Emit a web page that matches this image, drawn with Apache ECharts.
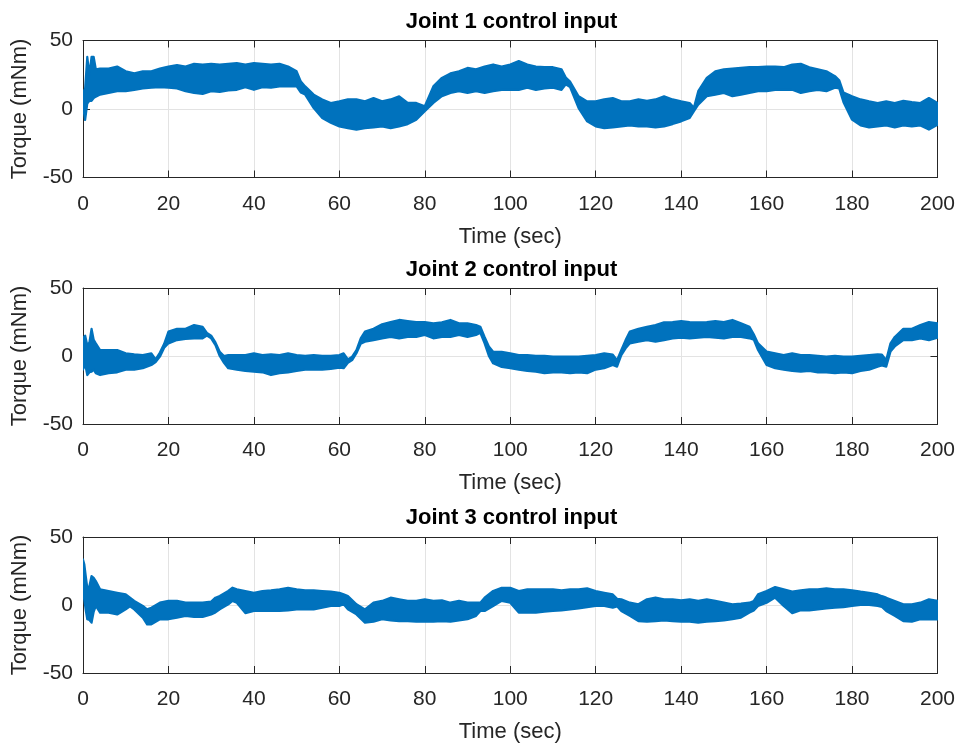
<!DOCTYPE html>
<html>
<head>
<meta charset="utf-8">
<script src="https://cdn.jsdelivr.net/npm/echarts@6/dist/echarts.min.js"></script>
<style>
  html, body { margin: 0; padding: 0; background: #ffffff; }
  #chart { width: 958px; height: 744px; }
</style>
</head>
<body>
<div id="chart"></div>
<script>
// Panel titles and axis text
const titles = ['Joint 1 control input', 'Joint 2 control input', 'Joint 3 control input'];
const xLabel = 'Time (sec)';
const yLabel = 'Torque (mNm)';
const xTicks = [0, 20, 40, 60, 80, 100, 120, 140, 160, 180, 200];
const yTicks = [-50, 0, 50];

// Joint 1: time (sec) with upper / lower envelope of the torque signal (mNm)
const time1 = [0,0.5,1,1.5,2,2.5,3,4,6,8,10,12,14,16,18,20,22,24,26,28,30,32,34,36,38,40,42,44,46,48,50,51,52,54,56,58,60,62,64,66,68,70,72,74,76,78,80,82,84,86,88,90,92,94,96,98,100,102,104,106,108,110,112,113,114,116,118,120,122,124,126,128,130,132,134,136,138,140,142,143,144,146,148,150,152,154,156,158,160,162,164,166,168,170,172,174,176,177,178,180,182,184,186,188,190,192,194,196,198,200];
const upper1 = [12,15,38,25,38,38,29,29.5,29.5,31,27.5,26,27.5,27.5,29.5,31,32,31,33,32.5,33,32.5,33,33.5,32.5,33.5,33,32.5,33,31,27.5,20,16.5,10.5,7,4.4,5.6,7,7,5.6,8,5.6,7,9.3,4.4,4.4,2,16.5,22.7,26,27.5,30,29,31,32.5,31,32.5,35,32.5,31,30.5,30.5,29,23,20,9.3,5.6,5.6,7,8,5.6,5.6,7,6,7,9.3,7,5.6,4.4,1,13,22.7,27.5,29,29.5,30,30.5,30.5,31,31,30.5,32.5,33,30.5,29,27.5,24,21,12,9.3,7,5.6,4.4,5.6,4.4,6,5,4.4,8,4.4];
const lower1 = [2,-8,4,6,6,8,9,10.5,11.7,13,13,14,15,15.5,16,15.5,15,13,11.7,11,13,12.5,13.5,14,16,14,16,15.5,16.5,16.5,16.5,12,10.5,0.7,-6.6,-10,-12.7,-14,-15,-14,-13.4,-12.7,-14,-12.7,-11,-7.8,-1.7,4.4,9.3,11.7,13,11.7,13,11.7,13,14,14,14,15.5,14,15,15.5,14,18,16,0.7,-9,-12.7,-14,-13.4,-12.7,-12,-12.7,-12.7,-13.4,-12.7,-11,-9,-6.6,-1.5,3.2,9.3,10.5,11.7,9.3,10.5,11.7,13,13,14,14,14,11.7,13,14,13,15.5,15,5,-7.8,-12,-13.4,-12.7,-12,-13.4,-12,-12.7,-12,-15,-11.5];

// Joint 2
const time2 = [0,0.5,1,1.5,2,2.5,3,4,6,8,10,12,14,16,17,18,19,20,22,24,26,28,29,30,31,32,33,34,36,38,40,42,44,46,48,50,52,54,56,58,60,61,62,63,64,65,66,68,70,72,74,76,78,80,82,84,86,88,90,92,93,94,95,96,98,100,102,104,106,108,110,112,114,116,118,120,122,124,125,126,127,128,130,132,134,136,138,140,142,144,146,148,150,152,154,156,157,158,160,162,164,166,168,170,172,174,176,178,180,182,184,186,187,188,189,190,192,194,196,198,200];
const upper2 = [13,15,8,10,20,12,9.3,4.4,4.4,4.4,2,1.2,0.7,2,-2.5,2.5,9,18,20,20,22.7,21.5,17,15,10,3.2,0,0.7,0.7,0.7,2,0.7,1.2,0.7,2,0.7,0.2,0.7,0.2,0.2,0.7,2,-2.5,-0.5,4.4,13,18,20,23.3,25,26.5,25.7,25,25,24,24.7,26.5,24,24,22.7,21.5,14,7,3.2,3,2,0.7,0.7,0.2,0.2,-0.5,-0.5,-0.5,-0.5,0.2,0.7,2,1,-3,4.4,11.7,18,20,21.5,22.7,24.7,25,25.7,25,24.7,25,25.7,25,26.5,24,21.5,16,9.3,3.2,2,0.7,2,0.7,0.7,0.2,-0.5,0.2,-0.5,-0.5,0.2,0.7,1.2,1,-3,9.3,14,20,20,22.7,25,24];
const lower2 = [-10,-6,-14,-12,-11.5,-10,-12.7,-14,-12.7,-12,-10,-10,-9,-6.6,-4.5,-0.5,6,9.3,11.7,12.5,13,13,15,13,8,0,-5,-9,-10,-11,-11.5,-12,-14,-12.7,-12,-11,-10,-10,-10,-9.5,-8.6,-9,-5,-3,2,9,10.5,11.7,13,14,13,14,14,15.5,13,14,14,15.5,14,15.5,17,9.3,0,-5.4,-8,-9,-10,-11,-11.5,-12.7,-12,-12,-12.7,-12,-12.7,-10,-9,-6.6,-7.8,0.7,5.6,9.3,10.5,11.7,10.5,11.7,13,13.5,13,13.5,14,13.5,13,14,14,13,12,4.4,-6.6,-9,-10,-11,-11.5,-11,-12,-12,-12.7,-12,-12.7,-11,-10,-7.8,-7,-7.8,3.2,7,11.7,11.7,13,11.7,13.5];

// Joint 3
const time3 = [0,0.3,0.7,1,1.5,2,2.5,3,4,6,8,10,11,12,14,15,16,18,20,22,24,26,28,30,31,32,34,35,36,38,40,42,44,46,48,50,52,54,56,58,60,61,62,64,66,68,70,72,74,76,78,80,82,84,86,88,90,92,93,94,96,98,100,102,104,106,108,110,112,114,116,118,120,122,124,125,126,128,130,132,134,136,138,140,142,144,146,148,150,152,154,156,157,158,160,162,164,166,168,170,172,174,176,178,180,182,184,186,187,188,190,192,194,196,198,200];
const upper3 = [33.5,30,20,12.7,14,21.3,20,17.6,11.5,10.3,9,7.8,5.4,3,-0.7,-3.2,-2,1.7,3,3,1.7,1.7,1.7,2.5,5.4,6.6,10.3,12.7,11.5,10.3,9,10.3,10.8,11.5,12.7,11.5,10.8,10.8,10.3,9.8,9,7.8,6.6,0.5,-3.2,1.7,3,5.4,4.2,3,3,4.2,3,3.4,1.7,3,1.7,1.7,1.7,5.4,10.3,12.7,12.7,10.3,11.5,11.5,11.5,11.5,10.8,11.5,11.5,12.2,10.3,9,7.8,4.5,4.2,1.7,0.5,4.2,5.4,4.2,4.2,3.4,4.2,3,4.2,3,1.7,0.5,1,1.7,3,7.8,10.3,13.2,11.5,9.8,10.8,11.5,11.5,12.2,11.5,11.5,10.8,9.8,9,7.8,6.5,5.4,3,0.5,0.5,1.7,4.2,3];
const lower3 = [6.6,4,-5,-10.5,-11,-13,-5,-0.7,-5.6,-5.6,-7,-3.2,-1,-3.2,-9.3,-14.2,-14.2,-10.5,-10.5,-9.3,-8,-8.8,-8.8,-6.9,-5.5,-3.2,0.5,3,1.7,-6,-4.4,-4.4,-4.4,-4.4,-3.9,-3.2,-3.2,-3.2,-2,-0.7,-0.7,0.5,-3.2,-6.9,-13,-12.3,-10.5,-11.3,-11.8,-11.8,-12.3,-12.3,-12.3,-11.8,-12.3,-11.3,-10.5,-8,-4.4,-4.4,-0.7,3,1.7,-5.6,-5.6,-5.6,-4.9,-4.4,-3.9,-3.2,-2.5,-1.5,-0.7,-0.7,-2,-1,-4.4,-8,-11.8,-12.3,-11.8,-11.3,-11.8,-12.3,-12.3,-13,-12.3,-11.8,-11.3,-10.5,-9.3,-5.6,-4,-0.7,1.7,5.4,-0.7,-6,-3.9,-3.9,-3.2,-2.5,-2,-1.5,-0.7,0,0,-0.7,-1.5,-4.4,-8,-11.8,-12.3,-10.5,-10.5,-10.5];

const joints = [
  { time: time1, upper: upper1, lower: lower1 },
  { time: time2, upper: upper2, lower: lower2 },
  { time: time3, upper: upper3, lower: lower3 }
];

const BLUE = '#0072BD';
const AXIS = '#262626';
const GRIDLINE = '#e3e3e3';
const FONT = "'Liberation Sans', Arial, Helvetica, sans-serif";

// panel placement (pixels)
const panels = [
  { top: 40.5, height: 137, titleTop: 11 },
  { top: 288, height: 136, titleTop: 259 },
  { top: 537, height: 136, titleTop: 507 }
];
const LEFT = 83, WIDTH = 857;

const xMin = xTicks[0], xMax = xTicks[xTicks.length - 1], xStep = xTicks[1] - xTicks[0];
const yMin = yTicks[0], yMax = yTicks[yTicks.length - 1], yStep = yTicks[1] - yTicks[0];

const grid = [], xAxis = [], yAxis = [], series = [], title = [];

panels.forEach((p, i) => {
  grid.push({ left: LEFT, top: p.top, width: WIDTH, height: p.height, containLabel: false });
  title.push({
    text: titles[i], left: LEFT + WIDTH / 2, top: p.titleTop, padding: 0,
    textAlign: 'center',
    textStyle: { fontFamily: FONT, fontSize: 22, fontWeight: 'bold', color: '#000', lineHeight: 22 }
  });
});

// bottom x axes (0..2), top x axes (3..5)
panels.forEach((p, i) => {
  xAxis.push({
    gridIndex: i, type: 'value', position: 'bottom', min: xMin, max: xMax, interval: xStep,
    name: xLabel, nameLocation: 'middle', nameGap: 48,
    nameTextStyle: { fontFamily: FONT, fontSize: 22, color: AXIS },
    axisLine: { show: true, onZero: false, lineStyle: { color: AXIS, width: 1 } },
    axisTick: { show: true, inside: true, length: 7, lineStyle: { color: AXIS, width: 1 } },
    axisLabel: { show: true, fontFamily: FONT, fontSize: 21, color: AXIS, margin: 16 },
    splitLine: { show: true, lineStyle: { color: GRIDLINE, width: 1 } }
  });
});
panels.forEach((p, i) => {
  xAxis.push({
    gridIndex: i, type: 'value', position: 'top', min: xMin, max: xMax, interval: xStep,
    axisLine: { show: true, onZero: false, lineStyle: { color: AXIS, width: 1 } },
    axisTick: { show: true, inside: true, length: 7, lineStyle: { color: AXIS, width: 1 } },
    axisLabel: { show: false },
    splitLine: { show: false }
  });
});
// left y axes (0..2), right y axes (3..5)
panels.forEach((p, i) => {
  yAxis.push({
    gridIndex: i, type: 'value', position: 'left', min: yMin, max: yMax, interval: yStep,
    name: yLabel, nameLocation: 'middle', nameGap: 52, nameRotate: 90,
    nameTextStyle: { fontFamily: FONT, fontSize: 22, color: AXIS },
    axisLine: { show: true, onZero: false, lineStyle: { color: AXIS, width: 1 } },
    axisTick: { show: true, inside: true, length: 7, lineStyle: { color: AXIS, width: 1 } },
    axisLabel: { show: true, fontFamily: FONT, fontSize: 21, color: AXIS, margin: 10 },
    splitLine: { show: true, lineStyle: { color: GRIDLINE, width: 1 } }
  });
});
panels.forEach((p, i) => {
  yAxis.push({
    gridIndex: i, type: 'value', position: 'right', min: yMin, max: yMax, interval: yStep,
    axisLine: { show: true, onZero: false, lineStyle: { color: AXIS, width: 1 } },
    axisTick: { show: true, inside: true, length: 7, lineStyle: { color: AXIS, width: 1 } },
    axisLabel: { show: false },
    splitLine: { show: false }
  });
});

// Each torque trace is drawn as the filled band between its lower and upper
// envelope: one polygon, upper edge forward in time, lower edge backward.
joints.forEach((j, i) => {
  series.push({
    type: 'custom', coordinateSystem: 'cartesian2d', xAxisIndex: i, yAxisIndex: i,
    data: j.time.map((t, k) => [t, j.lower[k], j.upper[k]]),
    encode: { x: 0, y: [1, 2] },
    silent: true, z: 3, clip: true,
    renderItem: (params, api) => {
      if (params.dataIndex !== 0) return null;
      const top = j.time.map((t, k) => api.coord([t, j.upper[k]]));
      const bottom = j.time.map((t, k) => api.coord([t, j.lower[k]])).reverse();
      return {
        type: 'polygon',
        shape: { points: top.concat(bottom) },
        style: { fill: BLUE, stroke: BLUE, lineWidth: 2.2, lineJoin: 'round' }
      };
    }
  });
});

const chart = echarts.init(document.getElementById('chart'), null, { renderer: 'canvas' });
chart.setOption({
  animation: false,
  backgroundColor: '#ffffff',
  textStyle: { fontFamily: FONT },
  title, grid, xAxis, yAxis, series
});
</script>
</body>
</html>
